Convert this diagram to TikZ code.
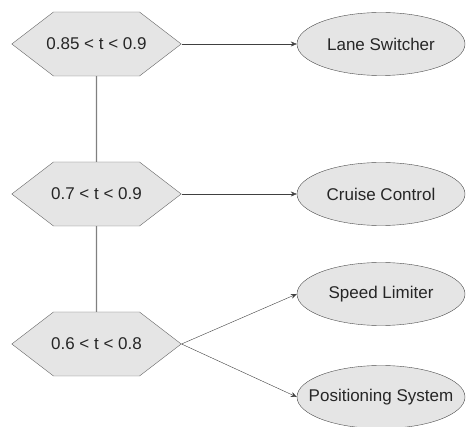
\documentclass[tikz,border=0pt]{standalone}
\usepackage{fontspec}
\setmainfont{Liberation Sans}
\usetikzlibrary{arrows.meta, positioning, shapes.symbols, shapes.geometric}

\newcommand{\guardtext}[1]{\makebox[86pt]{#1}}

\tikzset{
    guard/.style={signal, signal to=west and east, signal pointer angle=75,
        draw=black!60, fill=black!10, minimum height=64pt, inner sep=0pt},
    feature/.style={ellipse, draw=black!70, fill=black!10,
        minimum width=168pt, minimum height=63pt, inner xsep=-30pt, inner ysep=0pt},
}

\begin{document}
\begin{tikzpicture}[
    -{Stealth[length=6pt, width=5pt]},
    x=1pt, y=1pt,
    node distance=150pt and 284.5pt,
    on grid,
    font=\fontsize{17}{20}\selectfont,
    text=black!85,
]
    \useasboundingbox (-96.5,44) rectangle (372.5,-383);

    \node[guard]                 (G1) {\guardtext{0.85 < t < 0.9}};
    \node[guard, below =of G1]   (G2) {\guardtext{0.7 < t < 0.9}};
    \node[guard, below =of G2]   (G3) {\guardtext{0.6 < t < 0.8}};

    \node[feature, right =of G1] (LS) {Lane Switcher};
    \node[feature, right =of G2] (CC) {Cruise Control};
    \node[feature, above right =50pt and 284.5pt of G3] (SL) {Speed Limiter};
    \node[feature, below right =53pt and 284.5pt of G3] (PS) {Positioning System};

    % guards chained top to bottom
    \draw[-, black!50, line width=1.2pt] (G1) -- (G2);
    \draw[-, black!50, line width=1.2pt] (G2) -- (G3);

    \draw[black!75] (G1.east) -- (LS.west);
    \draw[black!75] (G2.east) -- (CC.west);
    \draw[black!75] (G3.east) -- (SL.west);
    \draw[black!75] (G3.east) -- (PS.west);
\end{tikzpicture}
\end{document}
